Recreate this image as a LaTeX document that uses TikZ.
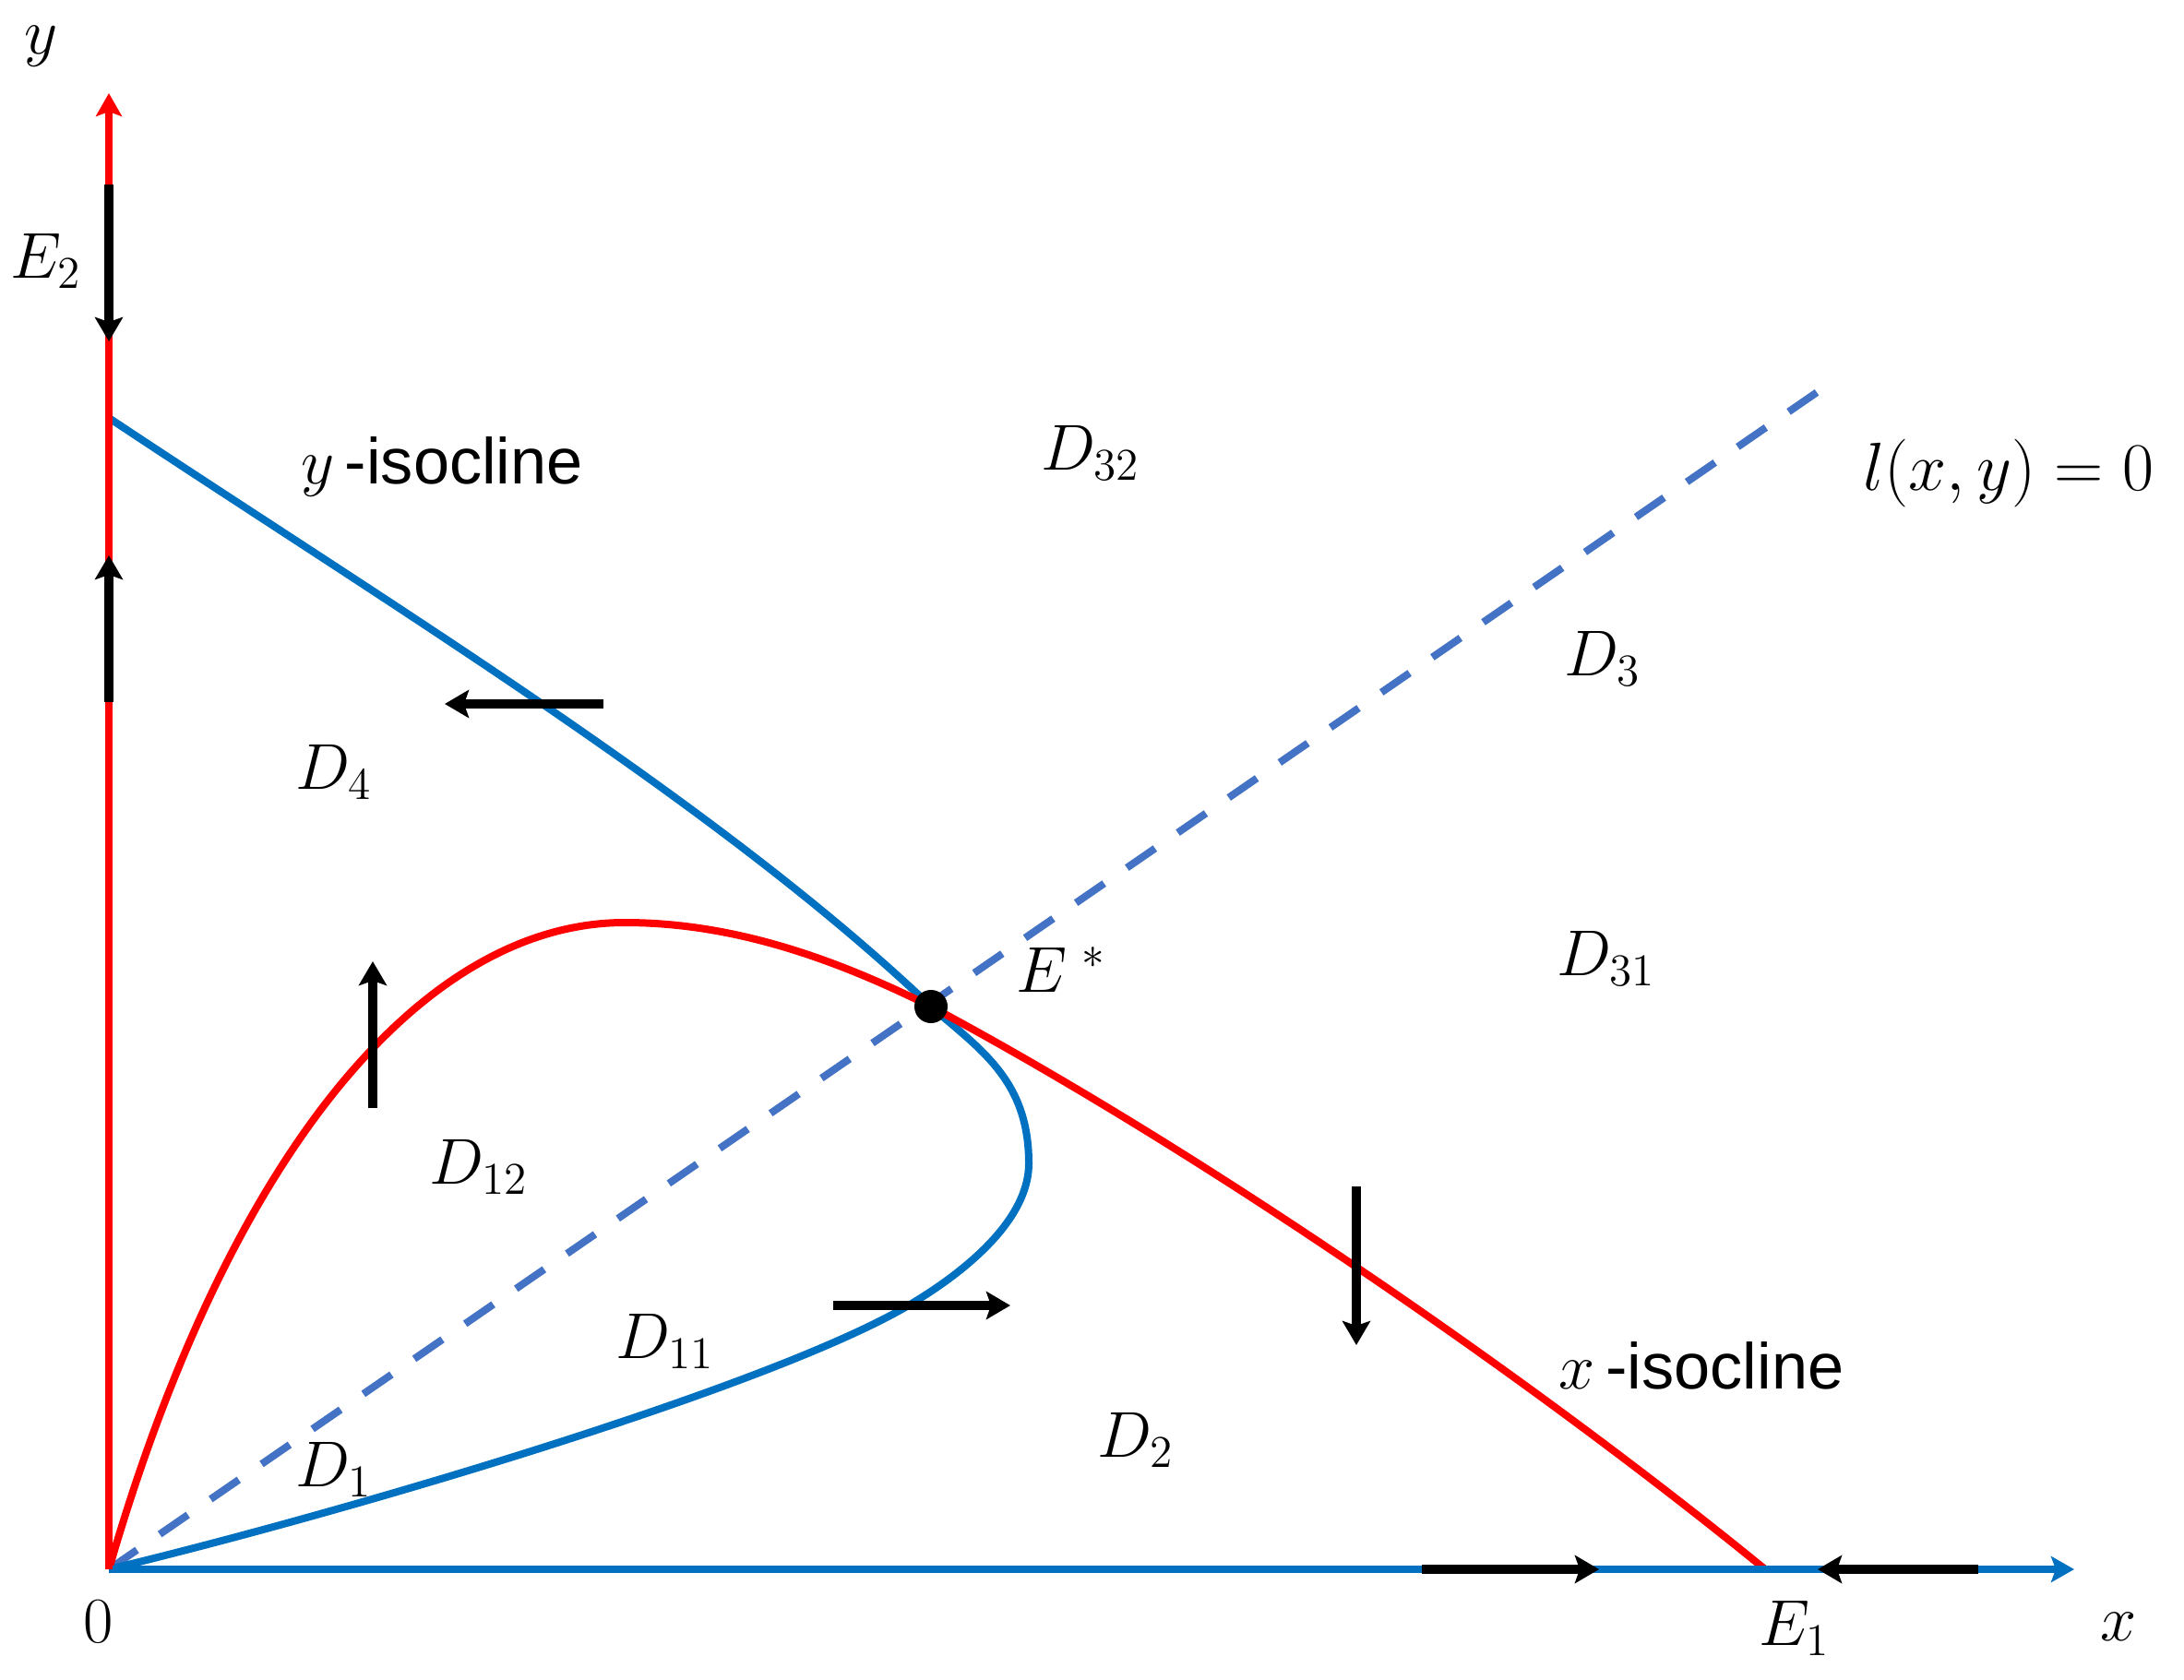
\RequirePackage{fix-cm}
\documentclass[tikz,border=0pt]{standalone}
\usepackage{fontspec}
\setsansfont{Liberation Sans}
\usetikzlibrary{arrows.meta}
\definecolor{isoblue}{RGB}{0,112,192}
\definecolor{isored}{RGB}{255,0,0}
\definecolor{lineblue}{RGB}{68,114,196}
\tikzset{
  every node/.style={font=\fontsize{20}{24}\selectfont, inner sep=0pt},
  isocurve/.style={line width=0.08cm},
  axisline/.style={line width=0.085cm, -{Stealth[length=0.25cm,width=0.28cm,inset=0.05cm]}},
  flow/.style={black, line width=0.1cm, -{Stealth[length=0.26cm,width=0.30cm,inset=0.05cm]}},
  lline/.style={lineblue, line width=0.08cm, dash pattern=on 0.37cm off 0.30cm},
}
\begin{document}
\begin{tikzpicture}
	\useasboundingbox (-1.18,-1.19) rectangle (22.49,17.01);
	\coordinate (O) at (0,0);
	\coordinate (Xend) at (21.30,0);
	\coordinate (Yend) at (0,16.00);
	\coordinate (E1) at (17.95,0);
	\coordinate (Es) at (8.91,6.10);
	\coordinate (Ytop) at (0,12.48);
	\coordinate (Lend) at (18.66,12.86);
	\coordinate (Ytip) at (9.97,4.40);
	\coordinate (Ylow) at (8.70,2.88);
	\coordinate (Xpeak) at (5.59,7.01);
	\draw[lline] (O) -- (Lend);
	\draw[isoblue,isocurve] (Ytop) .. controls (3.1,10.42) and (6.6,8.3) .. (Es)
		.. controls (9.45,5.63) and (9.97,5.3) .. (Ytip)
		.. controls (9.97,3.75) and (9.2,3.18) .. (Ylow)
		.. controls (7.2,1.98) and (2.5,0.6) .. (O);
	\draw[isored,isocurve] (O) .. controls (1.3,4.5) and (3.4,7.01) .. (Xpeak)
		.. controls (6.8,7.01) and (7.9,6.6) .. (Es)
		.. controls (11.9,4.5) and (15.5,2.0) .. (E1);
	\draw[isoblue,axisline] (O) -- (Xend);
	\draw[isored,axisline] (O) -- (Yend);
	\coordinate (ya1) at (0,15.01); \coordinate (ya2) at (0,13.31);
	\coordinate (yb1) at (0,9.40); \coordinate (yb2) at (0,10.99);
	\coordinate (xa1) at (14.23,0); \coordinate (xa2) at (16.15,0);
	\coordinate (xb1) at (20.26,0); \coordinate (xb2) at (18.52,0);
	\coordinate (up1) at (2.86,5.00); \coordinate (up2) at (2.86,6.59);
	\coordinate (lt1) at (5.36,9.38); \coordinate (lt2) at (3.64,9.38);
	\coordinate (rt1) at (7.85,2.86); \coordinate (rt2) at (9.77,2.86);
	\coordinate (dn1) at (13.52,4.15); \coordinate (dn2) at (13.52,2.43);
	\draw[flow] (ya1) -- (ya2);
	\draw[flow] (yb1) -- (yb2);
	\draw[flow] (xa1) -- (xa2);
	\draw[flow] (xb1) -- (xb2);
	\draw[flow] (up1) -- (up2);
	\draw[flow] (lt1) -- (lt2);
	\draw[flow] (rt1) -- (rt2);
	\draw[flow] (dn1) -- (dn2);
	\fill (Es) circle (0.18);
	\node (lY) at (-0.73,16.51) {$y$};
	\node (lX) at (21.78,-0.62) {$x$};
	\node (lO) at (-0.11,-0.57) {$0$};
	\node (lE1) at (18.27,-0.64) {$E_1$};
	\node (lE2) at (-0.68,14.18) {$E_2$};
	\node (lEs) at (10.32,6.50) {$E^{\,\,*}$};
	\node (lL) at (20.59,11.88) {\fontsize{21}{25}\selectfont$l(x,y)=0$};
	\node (lYiso) at (3.61,11.95) {$y$\,\textsf{-isocline}};
	\node (lXiso) at (17.26,2.21) {$x$\,\textsf{-isocline}};
	\node (lD32) at (10.64,12.10) {$D_{32}$};
	\node (lD3) at (16.19,9.87) {$D_3$};
	\node (lD31) at (16.23,6.62) {$D_{31}$};
	\node (lD4) at (2.44,8.64) {$D_4$};
	\node (lD12) at (4.01,4.36) {$D_{12}$};
	\node (lD11) at (6.03,2.47) {$D_{11}$};
	\node (lD1) at (2.44,1.08) {$D_1$};
	\node (lD2) at (11.13,1.40) {$D_2$};
\end{tikzpicture}
\end{document}
